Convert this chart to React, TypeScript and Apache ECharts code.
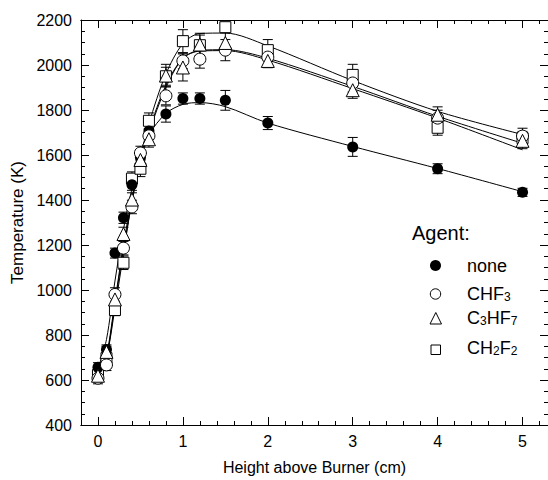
import React, { useEffect, useRef } from 'react';
import * as echarts from 'echarts';

// Heights above burner (cm)
const heights = [0, 0.1, 0.2, 0.3, 0.4, 0.5, 0.6, 0.8, 1.0, 1.2, 1.5, 2, 3, 4, 5];

// Measured temperatures (K)
const noneT = [657, 736, 1164, 1321, 1468, 1590, 1707, 1782, 1851, 1851, 1843, 1742, 1636, 1539, 1434];
const chf3T = [608, 667, 980, 1186, 1369, 1609, 1685, 1863, 2018, 2026, 2066, 2035, 1920, 1764, 1684];
const c3hf7T = [619, 725, 958, 1249, 1402, 1578, 1670, 1953, 1989, 2091, 2098, 2018, 1888, 1779, 1663];
const ch2f2T = [622, 697, 911, 1121, 1495, 1539, 1752, 1950, 2106, 2088, 2168, 2066, 1956, 1721, 1675];

// Error bar half-widths (K)
const noneErr = [20, 20, 22, 25, 25, 25, 25, 36, 25, 25, 44, 29, 42, 22, 18];
const chf3Err = [25, 25, 30, 30, 30, 30, 30, 40, 35, 40, 47, 35, 40, 35, 35];
const c3hf7Err = [25, 25, 30, 30, 30, 30, 35, 50, 60, 50, 45, 30, 36, 35, 35];
const ch2f2Err = [20, 20, 25, 30, 30, 35, 35, 40, 51, 45, 22, 47, 47, 33, 30];

// Fitted curves (K) at the same heights
const noneFit = [650, 780, 1040, 1270, 1450, 1590, 1690, 1785, 1825, 1833, 1815, 1742, 1638, 1540, 1437];
const chf3Fit = [612, 700, 940, 1180, 1390, 1570, 1700, 1900, 2030, 2065, 2068, 2030, 1905, 1772, 1652];
const c3hf7Fit = [618, 710, 950, 1200, 1410, 1580, 1710, 1910, 2030, 2062, 2064, 2022, 1895, 1764, 1623];
const ch2f2Fit = [620, 700, 920, 1160, 1400, 1590, 1740, 1960, 2095, 2140, 2142, 2085, 1931, 1794, 1691];

// Tick values
const xMajor = [0, 1, 2, 3, 4, 5];
const xMinor = [0.2, 0.4, 0.6, 0.8, 1.2, 1.4, 1.6, 1.8, 2.2, 2.4, 2.6, 2.8, 3.2, 3.4, 3.6, 3.8, 4.2, 4.4, 4.6, 4.8, 5.2];

const FONT = '"Liberation Sans", Arial, sans-serif';
const BLACK = '#000';

function pairs(vals: number[]) {
  return heights.map((h, i) => [h, vals[i]]);
}

function errSeries(vals: number[], errs: number[]) {
  return {
    type: 'custom',
    xAxisIndex: 0,
    yAxisIndex: 0,
    silent: true,
    z: 1,
    data: heights.map((h, i) => [h, vals[i], errs[i]]),
    renderItem: (params: any, api: any) => {
      const x = api.value(0);
      const y = api.value(1);
      const e = api.value(2);
      const top = api.coord([x, y + e]);
      const bot = api.coord([x, y - e]);
      const w = 5;
      const st = { stroke: BLACK, lineWidth: 1 };
      return {
        type: 'group',
        children: [
          { type: 'line', shape: { x1: top[0], y1: top[1], x2: bot[0], y2: bot[1] }, style: st },
          { type: 'line', shape: { x1: top[0] - w, y1: top[1], x2: top[0] + w, y2: top[1] }, style: st },
          { type: 'line', shape: { x1: bot[0] - w, y1: bot[1], x2: bot[0] + w, y2: bot[1] }, style: st },
        ],
      };
    },
  };
}

function fitSeries(name: string, vals: number[]) {
  return {
    type: 'line',
    name: name + ' fit',
    xAxisIndex: 0,
    yAxisIndex: 0,
    data: pairs(vals),
    smooth: 0.3,
    showSymbol: false,
    symbol: 'none',
    silent: true,
    z: 2,
    lineStyle: { color: BLACK, width: 1, opacity: 1 },
  };
}

function markSeries(name: string, vals: number[], symbol: string, size: number, filled: boolean) {
  return {
    type: 'scatter',
    name,
    xAxisIndex: 0,
    yAxisIndex: 0,
    data: pairs(vals),
    symbol,
    symbolSize: size,
    z: 3,
    itemStyle: filled
      ? { color: BLACK, borderColor: BLACK, borderWidth: 0, opacity: 1 }
      : { color: '#fff', borderColor: BLACK, borderWidth: 1, opacity: 1 },
  };
}

const baseX = {
  type: 'value',
  min: -0.2,
  max: 5.3,
  gridIndex: 0,
  splitLine: { show: false },
  axisLine: { show: true, onZero: false, lineStyle: { color: BLACK, width: 1 } },
};

const baseY = {
  type: 'value',
  min: 400,
  max: 2200,
  interval: 200,
  gridIndex: 0,
  splitLine: { show: false },
  axisLine: { show: true, onZero: false, lineStyle: { color: BLACK, width: 1 } },
  axisTick: { show: true, inside: true, length: 8, lineStyle: { color: BLACK } },
  minorTick: { show: true, splitNumber: 4, length: 4, lineStyle: { color: BLACK } },
};

const richSub = {
  m: { fontSize: 18, fontFamily: FONT, fill: BLACK, lineHeight: 18 },
  s: { fontSize: 12, fontFamily: FONT, fill: BLACK, lineHeight: 12, padding: [16, 0, 0, 0], verticalAlign: 'bottom' },
};

export default function App() {
  const ref = useRef<HTMLDivElement>(null);
  useEffect(() => {
    if (!ref.current) return;
    const chart = echarts.init(ref.current, undefined, { renderer: 'svg' });
    const option: any = {
      animation: false,
      backgroundColor: '#fff',
      grid: { left: 81, top: 20, width: 467.8, height: 413, containLabel: false },
      xAxis: [
        {
          ...baseX,
          position: 'bottom',
          name: 'Height above Burner (cm)',
          nameLocation: 'middle',
          nameGap: 34,
          nameTextStyle: { color: BLACK, fontSize: 16, fontFamily: FONT },
          axisTick: { show: true, inside: true, length: 8, customValues: xMajor, lineStyle: { color: BLACK } },
          axisLabel: { show: true, customValues: xMajor, color: BLACK, fontSize: 16, fontFamily: FONT, margin: 8, formatter: (v: number) => String(v) },
        },
        {
          ...baseX,
          position: 'bottom',
          axisTick: { show: true, inside: true, length: 4, customValues: xMinor, lineStyle: { color: BLACK } },
          axisLabel: { show: false },
        },
        {
          ...baseX,
          position: 'top',
          axisTick: { show: true, inside: true, length: 8, customValues: xMajor, lineStyle: { color: BLACK } },
          axisLabel: { show: false },
        },
        {
          ...baseX,
          position: 'top',
          axisTick: { show: true, inside: true, length: 4, customValues: xMinor, lineStyle: { color: BLACK } },
          axisLabel: { show: false },
        },
      ],
      yAxis: [
        {
          ...baseY,
          position: 'left',
          name: 'Temperature (K)',
          nameLocation: 'middle',
          nameGap: 55,
          nameRotate: 90,
          nameTextStyle: { color: BLACK, fontSize: 17, fontFamily: FONT },
          axisLabel: { show: true, color: BLACK, fontSize: 16, fontFamily: FONT, margin: 9, formatter: (v: number) => String(v) },
        },
        {
          ...baseY,
          position: 'right',
          axisLabel: { show: false },
        },
      ],
      series: [
        errSeries(ch2f2T, ch2f2Err),
        errSeries(noneT, noneErr),
        errSeries(chf3T, chf3Err),
        errSeries(c3hf7T, c3hf7Err),
        fitSeries('none', noneFit),
        fitSeries('CHF3', chf3Fit),
        fitSeries('C3HF7', c3hf7Fit),
        fitSeries('CH2F2', ch2f2Fit),
        markSeries('CH2F2', ch2f2T, 'rect', 11, false),
        markSeries('none', noneT, 'circle', 11, true),
        markSeries('CHF3', chf3T, 'circle', 12, false),
        markSeries('C3HF7', c3hf7T, 'triangle', 13, false),
      ],
      graphic: [
        {
          type: 'text',
          x: 412,
          y: 233,
          style: { text: 'Agent:', fontSize: 20, fontFamily: FONT, fill: BLACK, align: 'left', verticalAlign: 'middle' },
        },
        { type: 'circle', shape: { cx: 435.5, cy: 265.5, r: 5.5 }, style: { fill: BLACK } },
        { type: 'circle', shape: { cx: 435.5, cy: 294, r: 5.2 }, style: { fill: '#fff', stroke: BLACK, lineWidth: 1 } },
        {
          type: 'polygon',
          shape: { points: [[435.8, 312.5], [441.5, 324], [430, 324]] },
          style: { fill: '#fff', stroke: BLACK, lineWidth: 1 },
        },
        { type: 'rect', shape: { x: 431, y: 345, width: 9.5, height: 9.5 }, style: { fill: '#fff', stroke: BLACK, lineWidth: 1 } },
        {
          type: 'text',
          x: 467,
          y: 266,
          style: { text: 'none', fontSize: 18, fontFamily: FONT, fill: BLACK, align: 'left', verticalAlign: 'middle' },
        },
        {
          type: 'text',
          x: 467,
          y: 294,
          style: { text: '{m|CHF}{s|3}', fill: BLACK, align: 'left', verticalAlign: 'middle', rich: richSub },
        },
        {
          type: 'text',
          x: 467,
          y: 318,
          style: { text: '{m|C}{s|3}{m|HF}{s|7}', fill: BLACK, align: 'left', verticalAlign: 'middle', rich: richSub },
        },
        {
          type: 'text',
          x: 467,
          y: 348,
          style: { text: '{m|CH}{s|2}{m|F}{s|2}', fill: BLACK, align: 'left', verticalAlign: 'middle', rich: richSub },
        },
      ],
    };
    chart.setOption(option);
    return () => chart.dispose();
  }, []);
  return (
    <div
      ref={ref}
      style={{ position: 'absolute', left: 0, top: 0, width: 548, height: 480, background: '#fff' }}
    />
  );
}
